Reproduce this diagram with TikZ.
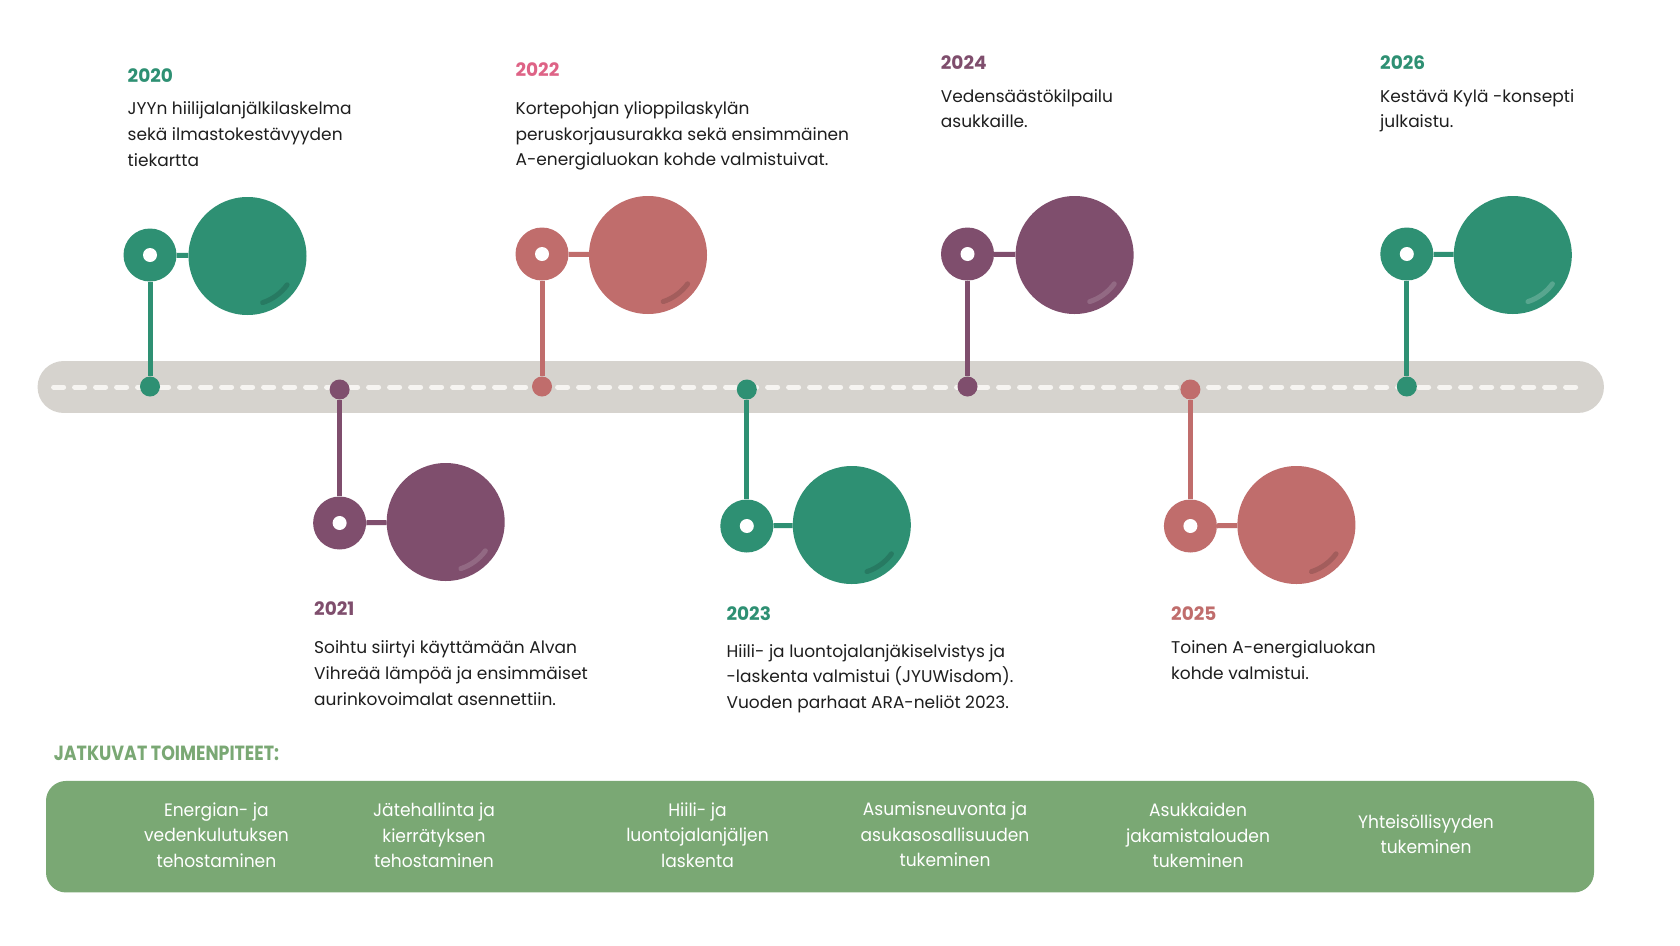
\documentclass[tikz,border=0pt]{standalone}
\usepackage{fontspec}
\setmainfont{Poppins}
\newfontfamily\condfont{Poppins}[FakeStretch=0.95]
\newfontfamily\headfont{Poppins}[FakeStretch=0.85]
\definecolor{cteal}{HTML}{2E9073}
\definecolor{cpink}{HTML}{C06D6C}
\definecolor{cpurple}{HTML}{7F4E6D}
\definecolor{chot}{HTML}{DE6386}
\definecolor{cbar}{HTML}{D6D3CE}
\definecolor{cdash}{HTML}{F6F4F1}
\definecolor{cgreen}{HTML}{7AA874}
\definecolor{ctext}{HTML}{1E1E1E}
\tikzset{
  dotnode/.style={circle, inner sep=0pt, minimum size=20pt},
  smallc/.style={circle, inner sep=0pt, minimum size=53pt},
  hole/.style={circle, fill=white, inner sep=0pt, minimum size=14pt},
  bigc/.style={circle, inner sep=0pt, minimum size=118pt},
  conn/.style={line width=5pt},
  shine/.style={line width=5pt, line cap=round},
  yearlbl/.style={anchor=base west, inner sep=0pt, font=\fontsize{18.5}{20}\selectfont\bfseries},
  desc/.style={anchor=base west, align=left, inner sep=0pt, text=ctext, font=\fontsize{17}{25.7}\selectfont},
  boxtxt/.style={anchor=base, align=center, inner sep=0pt, text=white, font=\condfont\fontsize{18}{25.7}\selectfont},
}
\begin{document}
\begin{tikzpicture}[x=1pt,y=-1pt]
\useasboundingbox (0,0) rectangle (1680,945);
\fill[white] (0,0) rectangle (1680,945);
% timeline bar
\draw[cbar, line width=52.5pt, line cap=round] (63.8,387.2) -- (1577.7,387.2);
\draw[cdash, line width=5pt, line cap=round, dash pattern=on 10pt off 11pt] (53.6,387) -- (1580,387);

% 2020
\node[dotnode, fill=cteal] (d20) at (150,386.5) {};
\node[smallc, fill=cteal] (s20) at (150,255) {};
\node[hole] (h20) at (s20) {};
\node[bigc, fill=cteal] (b20) at (247.5,256) {};
\draw[conn, cteal] (s20) -- (d20);
\draw[conn, cteal] (s20) -- (b20);
\draw[shine, cteal!85!black] ([shift={(36:49)}]b20.center) arc[start angle=36, end angle=72, radius=49];
\node[yearlbl, text=cteal] (y20) at (127.5,82.5) {2020};
\node[desc] (t20) at (127.5,166.1) {JYYn hiilijalanjälkilaskelma\\sekä ilmastokestävyyden\\tiekartta};

% 2021
\node[dotnode, fill=cpurple] (d21) at (339.6,389.5) {};
\node[smallc, fill=cpurple] (s21) at (339.6,523) {};
\node[hole] (h21) at (s21) {};
\node[bigc, fill=cpurple] (b21) at (445.7,522) {};
\draw[conn, cpurple] (d21) -- (s21);
\draw[conn, cpurple] (s21) -- (b21);
\draw[shine, cpurple!85!white] ([shift={(36:49)}]b21.center) arc[start angle=36, end angle=72, radius=49];
\node[yearlbl, text=cpurple] (y21) at (314,615.6) {2021};
\node[desc] (t21) at (314,705) {Soihtu siirtyi käyttämään Alvan\\Vihreää lämpöä ja ensimmäiset\\aurinkovoimalat asennettiin.};

% 2022
\node[dotnode, fill=cpink] (d22) at (542,386.5) {};
\node[smallc, fill=cpink] (s22) at (542,254) {};
\node[hole] (h22) at (s22) {};
\node[bigc, fill=cpink] (b22) at (648,255) {};
\draw[conn, cpink] (s22) -- (d22);
\draw[conn, cpink] (s22) -- (b22);
\draw[shine, cpink!85!black] ([shift={(36:49)}]b22.center) arc[start angle=36, end angle=72, radius=49];
\node[yearlbl, text=chot] (y22) at (515.4,76.5) {2022};
\node[desc] (t22) at (515.4,165.9) {Kortepohjan ylioppilaskylän\\peruskorjausurakka sekä ensimmäinen\\A-energialuokan kohde valmistuivat.};

% 2023
\node[dotnode, fill=cteal] (d23) at (746.8,389.5) {};
\node[smallc, fill=cteal] (s23) at (746.8,526) {};
\node[hole] (h23) at (s23) {};
\node[bigc, fill=cteal] (b23) at (851.8,525) {};
\draw[conn, cteal] (d23) -- (s23);
\draw[conn, cteal] (s23) -- (b23);
\draw[shine, cteal!85!black] ([shift={(36:49)}]b23.center) arc[start angle=36, end angle=72, radius=49];
\node[yearlbl, text=cteal] (y23) at (726.4,620) {2023};
\node[desc] (t23) at (726.4,708.4) {Hiili- ja luontojalanjäkiselvistys ja\\-laskenta valmistui (JYUWisdom).\\Vuoden parhaat ARA-neliöt 2023.};

% 2024
\node[dotnode, fill=cpurple] (d24) at (967.5,386.5) {};
\node[smallc, fill=cpurple] (s24) at (967.5,254) {};
\node[hole] (h24) at (s24) {};
\node[bigc, fill=cpurple] (b24) at (1074.6,255) {};
\draw[conn, cpurple] (s24) -- (d24);
\draw[conn, cpurple] (s24) -- (b24);
\draw[shine, cpurple!85!white] ([shift={(36:49)}]b24.center) arc[start angle=36, end angle=72, radius=49];
\node[yearlbl, text=cpurple] (y24) at (940.7,69.5) {2024};
\node[desc] (t24) at (940.7,127.7) {Vedensäästökilpailu\\asukkaille.};

% 2025
\node[dotnode, fill=cpink] (d25) at (1190.4,389.5) {};
\node[smallc, fill=cpink] (s25) at (1190.4,526) {};
\node[hole] (h25) at (s25) {};
\node[bigc, fill=cpink] (b25) at (1296.4,525) {};
\draw[conn, cpink] (d25) -- (s25);
\draw[conn, cpink] (s25) -- (b25);
\draw[shine, cpink!85!black] ([shift={(36:49)}]b25.center) arc[start angle=36, end angle=72, radius=49];
\node[yearlbl, text=cpink] (y25) at (1171,620) {2025};
\node[desc] (t25) at (1171,679.3) {Toinen A-energialuokan\\kohde valmistui.};

% 2026
\node[dotnode, fill=cteal] (d26) at (1406.8,386.5) {};
\node[smallc, fill=cteal] (s26) at (1406.8,254) {};
\node[hole] (h26) at (s26) {};
\node[bigc, fill=cteal] (b26) at (1512.8,255) {};
\draw[conn, cteal] (s26) -- (d26);
\draw[conn, cteal] (s26) -- (b26);
\draw[shine, cteal!80!white] ([shift={(36:49)}]b26.center) arc[start angle=36, end angle=72, radius=49];
\node[yearlbl, text=cteal] (y26) at (1380,69.5) {2026};
\node[desc] (t26) at (1380,127.7) {Kestävä Kylä -konsepti\\julkaistu.};

% continuing actions
\node[anchor=base west, inner sep=0pt, text=cgreen, font=\headfont\fontsize{20.5}{22}\selectfont\bfseries] (hdr) at (53.6,760) {JATKUVAT TOIMENPITEET:};
\node[fill=cgreen, rounded corners=20pt, minimum width=1548pt, minimum height=111.5pt, inner sep=0pt] (panel) at (820,836.7) {};
\node[boxtxt] (a1) at (216.4,867.4) {Energian- ja\\vedenkulutuksen\\tehostaminen};
\node[boxtxt] (a2) at (434,867.9) {Jätehallinta ja\\kierrätyksen\\tehostaminen};
\node[boxtxt] (a3) at (697.5,867.4) {Hiili- ja\\luontojalanjäljen\\laskenta};
\node[boxtxt] (a4) at (945,866.9) {Asumisneuvonta ja\\asukasosallisuuden\\tukeminen};
\node[boxtxt] (a5) at (1198,867.9) {Asukkaiden\\jakamistalouden\\tukeminen};
\node[boxtxt] (a6) at (1426,853.7) {Yhteisöllisyyden\\tukeminen};
\end{tikzpicture}
\end{document}
